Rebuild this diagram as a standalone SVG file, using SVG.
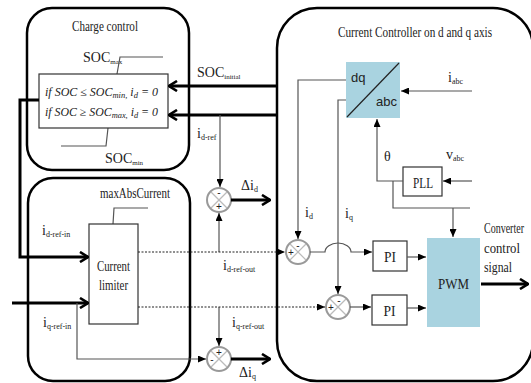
<svg xmlns="http://www.w3.org/2000/svg" width="531" height="383" viewBox="0 0 531 383">
<defs>
<marker id="chev" viewBox="0 0 10 12" markerWidth="10" markerHeight="12" refX="9" refY="6" orient="auto" markerUnits="userSpaceOnUse">
<path d="M1,1 L9,6 L1,11" fill="none" stroke="#000" stroke-width="2.6"/>
</marker>
<marker id="tri" viewBox="0 0 8 7" markerWidth="8" markerHeight="7" refX="8" refY="3.5" orient="auto" markerUnits="userSpaceOnUse">
<path d="M0,0 L8,3.5 L0,7 z" fill="#000"/>
</marker>
<style>
.big{fill:none;stroke:#000;stroke-width:2.5}
.box{fill:#fff;stroke:#333;stroke-width:1.2}
.blue{fill:#a9d3e0;stroke:none}
.thick{fill:none;stroke:#000;stroke-width:3}
.thin{fill:none;stroke:#555;stroke-width:1.2}
.dash{fill:none;stroke:#222;stroke-width:1.2;stroke-dasharray:2 1.5}
.circ{fill:#fff;stroke:#999;stroke-width:2}
.x{stroke:#bbb;stroke-width:1.2}
text{font-family:"Liberation Serif","Times New Roman",serif;fill:#222;font-size:14px}
.sub{font-size:8px}
.sans{font-family:"Liberation Sans",Arial,sans-serif;font-size:13px}
.math{font-style:italic;font-size:12px}
.sign{font-family:"Liberation Sans",Arial,sans-serif;font-size:10px}
</style>
</defs>

<g id="charge-control">
<rect class="big" x="27" y="8" width="162" height="162" rx="25"/>
<text x="72" y="31" font-size="14.5" textLength="66" lengthAdjust="spacingAndGlyphs">Charge control</text>
<text x="83" y="62" font-size="13.5">SOC<tspan font-size="7" dy="2">max</tspan></text>
<path class="thin" d="M117,74 L120,57 H163"/>
<text x="105" y="163" font-size="13.5">SOC<tspan font-size="7" dy="2">min</tspan></text>
<path class="thin" d="M108,128 L106,146 H61"/>
</g>

<g id="condition">
<rect class="box" x="39" y="74" width="129" height="54"/>
<text class="math" x="45" y="96" textLength="113" lengthAdjust="spacingAndGlyphs">if SOC ≤ SOC<tspan font-size="8.5" dy="2">min,</tspan><tspan dy="-2"> i</tspan><tspan font-size="8.5" dy="2">d</tspan><tspan dy="-2"> = 0</tspan></text>
<text class="math" x="45" y="116" textLength="113" lengthAdjust="spacingAndGlyphs">if SOC ≥ SOC<tspan font-size="8.5" dy="2">max,</tspan><tspan dy="-2"> i</tspan><tspan font-size="8.5" dy="2">d</tspan><tspan dy="-2"> = 0</tspan></text>
</g>

<g id="limiter-group">
<rect class="big" x="28" y="178" width="162" height="203" rx="25"/>
<text x="100" y="198" font-size="14" textLength="70" lengthAdjust="spacingAndGlyphs">maxAbsCurrent</text>
<path class="thin" d="M148,208 H114 L113,224"/>
</g>

<g id="current-limiter">
<rect class="box" x="89" y="224" width="49" height="100"/>
<text x="97" y="271" font-size="15" textLength="33" lengthAdjust="spacingAndGlyphs">Current</text>
<text x="99" y="290" font-size="15" textLength="29" lengthAdjust="spacingAndGlyphs">limiter</text>
</g>

<g id="current-controller">
<rect class="big" x="277" y="8" width="256" height="373" rx="40"/>
<text x="338" y="37" font-size="14" textLength="154" lengthAdjust="spacingAndGlyphs">Current Controller on d and q axis</text>
</g>

<g id="dq-abc">
<rect class="blue" x="346" y="62" width="54" height="56"/>
<line x1="347" y1="117" x2="399" y2="63" stroke="#222" stroke-width="1.2"/>
<text class="sans" x="351" y="82">dq</text>
<text class="sans" x="376" y="106">abc</text>
</g>

<g id="pll">
<rect class="box" x="403" y="167" width="39" height="29"/>
<text x="413" y="188" font-size="14.5" textLength="20" lengthAdjust="spacingAndGlyphs">PLL</text>
</g>

<g id="pi1">
<rect class="box" x="373" y="241" width="34" height="30"/>
<text x="384" y="262" font-size="14.5" textLength="12" lengthAdjust="spacingAndGlyphs">PI</text>
</g>
<g id="pi2">
<rect class="box" x="372" y="295" width="35" height="30"/>
<text x="383.5" y="316" font-size="14.5" textLength="12" lengthAdjust="spacingAndGlyphs">PI</text>
</g>

<g id="pwm">
<rect class="blue" x="427" y="238" width="53" height="89"/>
<text x="438" y="289" font-size="14.5" textLength="31" lengthAdjust="spacingAndGlyphs">PWM</text>
</g>

<g id="sum-d">
<circle class="circ" cx="298" cy="252" r="12"/>
<line class="x" x1="290" y1="244" x2="306" y2="260"/><line class="x" x1="306" y1="244" x2="290" y2="260"/>
<text class="sign" x="298" y="249" text-anchor="middle">-</text>
<text class="sign" x="291" y="256" text-anchor="middle">+</text>
</g>
<g id="sum-q">
<circle class="circ" cx="338" cy="307" r="12"/>
<line class="x" x1="330" y1="299" x2="346" y2="315"/><line class="x" x1="346" y1="299" x2="330" y2="315"/>
<text class="sign" x="339" y="304" text-anchor="middle">-</text>
<text class="sign" x="331" y="311" text-anchor="middle">+</text>
</g>

<g id="delta-d">
<circle class="circ" cx="219" cy="200" r="12"/>
<line class="x" x1="211" y1="192" x2="227" y2="208"/><line class="x" x1="227" y1="192" x2="211" y2="208"/>
<text class="sign" x="219" y="196" text-anchor="middle">-</text>
<text class="sign" x="219" y="210" text-anchor="middle">+</text>
</g>
<g id="delta-q">
<circle class="circ" cx="219" cy="359" r="12"/>
<line class="x" x1="211" y1="351" x2="227" y2="367"/><line class="x" x1="227" y1="351" x2="211" y2="367"/>
<text class="sign" x="219" y="356" text-anchor="middle">+</text>
<text class="sign" x="212" y="363" text-anchor="middle">-</text>
</g>

<g id="connectors">
<line class="thick" x1="277" y1="86" x2="169" y2="86" marker-end="url(#chev)"/>
<line class="thick" x1="277" y1="115" x2="169" y2="115" marker-end="url(#chev)"/>
<path class="thick" d="M39,100 H20 V257 H88" marker-end="url(#chev)"/>
<line class="thick" x1="12" y1="303" x2="88" y2="303" marker-end="url(#chev)"/>
<path class="thin" d="M220,115 V187" marker-end="url(#tri)"/>
<path class="thin" d="M219,252 V213" marker-end="url(#tri)"/>
<path class="thin" d="M219,307 V346" marker-end="url(#tri)"/>
<path class="thin" d="M77,303 V359 H206" marker-end="url(#tri)"/>
<line class="thick" x1="231" y1="200" x2="270" y2="200" marker-end="url(#chev)"/>
<line class="thick" x1="231" y1="359" x2="270" y2="359" marker-end="url(#chev)"/>
<line class="dash" x1="138" y1="252" x2="285" y2="252" marker-end="url(#tri)"/>
<line class="dash" x1="138" y1="307" x2="325" y2="307" marker-end="url(#tri)"/>
<path class="thin" d="M346,80 H298 V239" marker-end="url(#tri)"/>
<path class="thin" d="M346,100 H338 V294" marker-end="url(#tri)"/>
<path class="thin" stroke="#333" d="M310,252 H325 A13,9 0 0 1 351,252 H372" marker-end="url(#tri)"/>
<line class="thin" stroke="#333" x1="350" y1="307" x2="371" y2="307" marker-end="url(#tri)"/>
<line class="thin" stroke="#333" x1="407" y1="257" x2="426" y2="257" marker-end="url(#tri)"/>
<line class="thin" stroke="#333" x1="407" y1="308" x2="426" y2="308" marker-end="url(#tri)"/>
<line class="thin" stroke="#333" x1="472" y1="91" x2="401" y2="91" marker-end="url(#tri)"/>
<line class="thin" stroke="#333" x1="472" y1="181" x2="443" y2="181" marker-end="url(#tri)"/>
<path class="thin" d="M403,181 H377 V119" marker-end="url(#tri)"/>
<path class="thin" d="M393,181 V208 H470"/>
<path class="thin" d="M453,208 V237" marker-end="url(#tri)"/>
<line class="thick" x1="481" y1="284" x2="528" y2="284" marker-end="url(#chev)"/>
</g>

<g id="labels">
<text x="197" y="77" font-size="13.5">SOC<tspan font-size="7" dy="2">initial</tspan></text>
<text x="197" y="138">i<tspan class="sub" dy="2">d-ref</tspan></text>
<text x="241" y="190">Δi<tspan class="sub" dy="2">d</tspan></text>
<text x="239" y="377">Δi<tspan class="sub" dy="2">q</tspan></text>
<text x="223" y="270">i<tspan class="sub" dy="2">d-ref-out</tspan></text>
<text x="232" y="327">i<tspan class="sub" dy="2">q-ref-out</tspan></text>
<text x="42" y="235">i<tspan class="sub" dy="2">d-ref-in</tspan></text>
<text x="43" y="327">i<tspan class="sub" dy="2">q-ref-in</tspan></text>
<text x="305" y="217">i<tspan class="sub" dy="2">d</tspan></text>
<text x="345" y="218">i<tspan class="sub" dy="2">q</tspan></text>
<text x="448" y="82">i<tspan class="sub" dy="2">abc</tspan></text>
<text x="446" y="159">v<tspan class="sub" dy="2">abc</tspan></text>
<text x="384" y="161">θ</text>
<text x="484" y="233" font-size="12" textLength="40" lengthAdjust="spacingAndGlyphs">Converter</text>
<text x="484" y="253" font-size="13" textLength="36" lengthAdjust="spacingAndGlyphs">control</text>
<text x="484" y="272" font-size="13" textLength="28" lengthAdjust="spacingAndGlyphs">signal</text>
</g>
</svg>
